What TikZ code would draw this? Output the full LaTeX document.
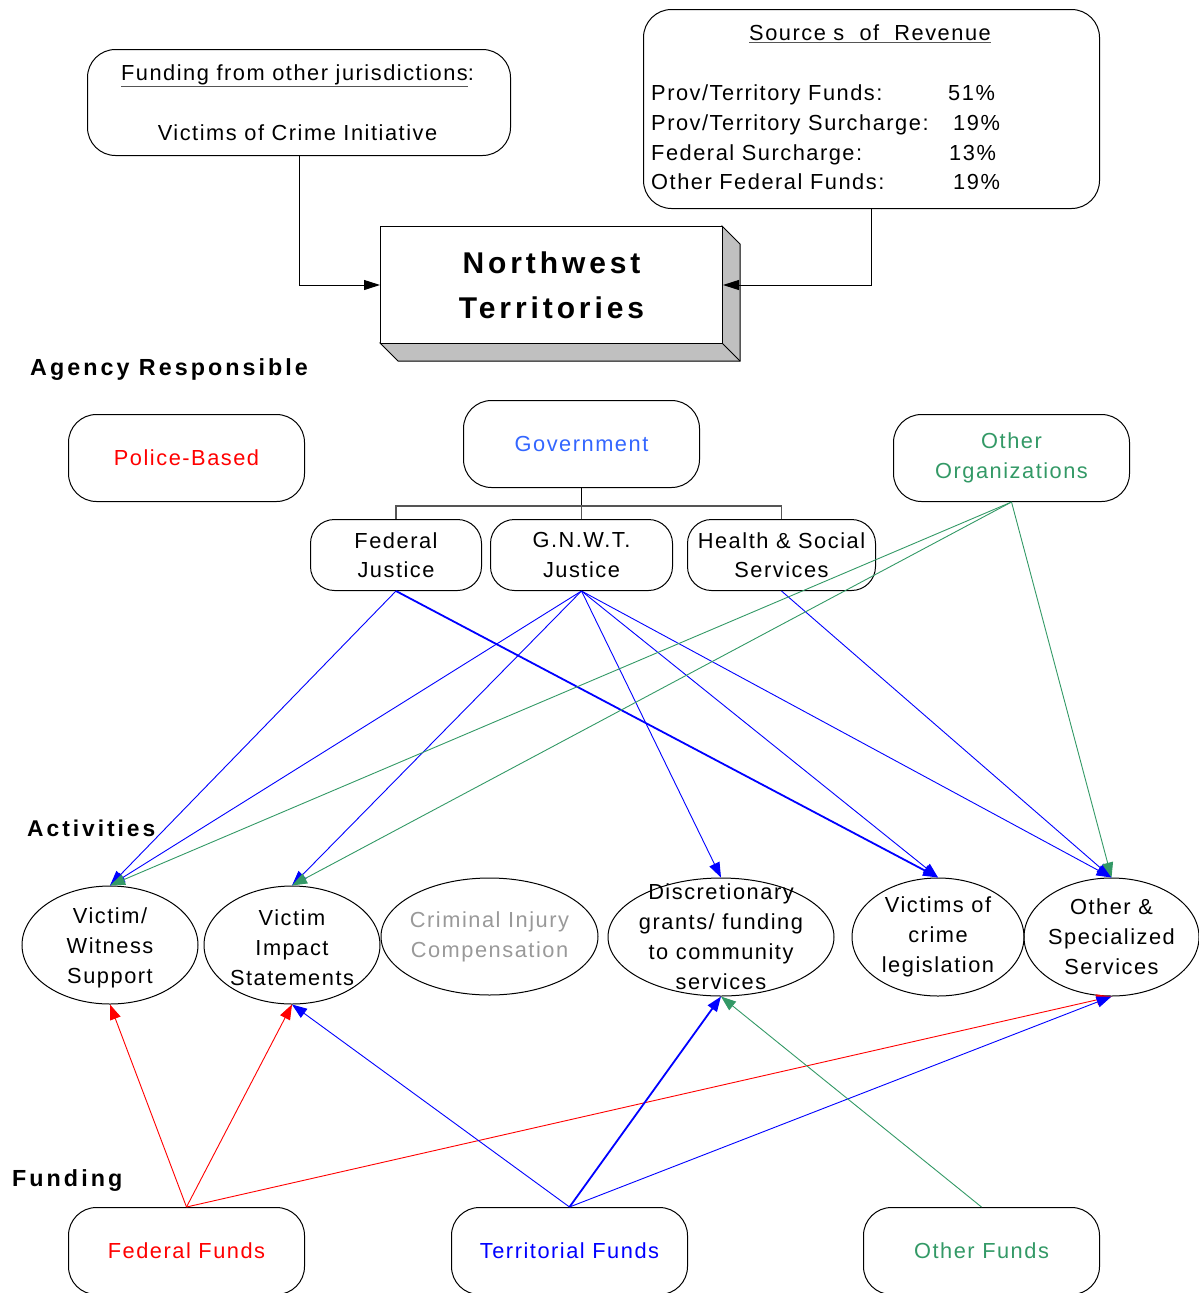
\documentclass[tikz,border=0pt]{standalone}
\usepackage{fontspec}
\setmainfont{Liberation Sans}[LetterSpace=7]
\newfontfamily\headfont{Liberation Sans}[LetterSpace=13]
\usetikzlibrary{arrows.meta,shapes.geometric}

\definecolor{fedred}{HTML}{FF0000}
\definecolor{terblue}{HTML}{0000FF}
\definecolor{othgreen}{HTML}{339966}
\definecolor{govblue}{HTML}{3366FF}
\definecolor{cicgray}{HTML}{999999}
\definecolor{sidegray}{HTML}{C0C0C0}
\definecolor{treegray}{HTML}{555555}

\begin{document}
\begin{tikzpicture}[x=1pt,y=-1pt,
  every node/.style={font=\fontsize{21.8}{29.5}\selectfont},
  txt/.style={inner sep=0pt, align=center},
  rbox/.style={draw, line width=1pt, rounded corners=28pt, inner sep=0pt, align=center, anchor=north west},
  sbox/.style={rbox, rounded corners=24pt, minimum width=#1, minimum height=71pt},
  abox/.style={rbox, minimum width=236pt, minimum height=87pt},
  ell/.style={draw, line width=1pt, ellipse, inner sep=0pt},
  heading/.style={inner sep=0pt, anchor=base west, font=\headfont\bfseries\fontsize{23.3}{28}\selectfont},
  tip/.style={-{Triangle[length=15pt,width=11pt]}},
  flowblue/.style={tip, terblue, line width=0.9pt},
  flowbluethick/.style={tip, terblue, line width=1.8pt},
  flowred/.style={tip, fedred, line width=0.9pt},
  flowgreen/.style={tip, othgreen, line width=0.9pt},
  feed/.style={-{Triangle[length=16pt,width=10pt]}, line width=1pt}
]
\useasboundingbox (0,0) rectangle (1199,1293);

% ---------- funding sources at the top ----------
\node[rbox, minimum width=423pt, minimum height=106pt] (jur) at (87,49) {};
\node[txt, anchor=base] (jurtitle) at (297.5,80.5)
  {{\color{treegray}\underline{\color{black}Funding from other jurisdictions}}:};
\node[txt, anchor=base] (jurtext) at (297.5,140.5) {Victims of Crime Initiative};

\node[rbox, minimum width=456pt, minimum height=199pt] (rev) at (643,9) {};
\node[txt, anchor=base] (revtitle) at (870,40.5)
  {{\color{treegray}\underline{\color{black}Source s\ \ of\ \ Revenue}}};
\node[txt, anchor=base west] (r1) at (651,100.5) {Prov/Territory Funds:};
\node[txt, anchor=base west] (r2) at (651,130.5) {Prov/Territory Surcharge:};
\node[txt, anchor=base west] (r3) at (651,160.5) {Federal Surcharge:};
\node[txt, anchor=base west] (r4) at (651,189.5) {Other Federal Funds:};
\node[txt, anchor=base west] (p1) at (948,100.5) {51\%};
\node[txt, anchor=base west] (p2) at (953,130.5) {19\%};
\node[txt, anchor=base west] (p3) at (949,160.5) {13\%};
\node[txt, anchor=base west] (p4) at (953,189.5) {19\%};

% ---------- the territory block with its bevel ----------
\filldraw[fill=sidegray, line width=1pt]
  (722,226) -- (740,244) -- (740,361) -- (398,361) -- (380,343) -- (722,343) -- cycle;
\draw[line width=1pt] (722,343) -- (740,361);
\node[draw, fill=white, line width=1pt, anchor=north west, inner sep=0pt,
      minimum width=342pt, minimum height=117pt, align=center,
      font=\headfont\bfseries\fontsize{30}{45}\selectfont] (nwt) at (380,226)
  {Northwest\\Territories};

\draw[feed] (jur.south) |- (nwt.west);
\draw[feed] (rev.south) |- (nwt.east);

% ---------- agencies ----------
\node[heading] (hagency) at (30,375) {Agency Responsible};

\node[abox, text=fedred] (police) at (68,414) {Police-Based};
\node[abox, text=govblue] (gov) at (463,400) {Government};
\node[abox, text=othgreen] (other) at (893,414) {Other\\Organizations};

\node[sbox=171pt] (fj) at (310,519) {Federal\\Justice};
\node[sbox=182pt] (gnwt) at (490,519) {G.N.W.T.\\Justice};
\node[sbox=188pt] (hss) at (687,519) {Health \& Social\\Services};

\draw[line width=1.4pt] (gov.south) -- ++(0,18) coordinate (junc);
\draw[treegray, line width=1.2pt] (fj.north) |- (junc) -| (hss.north);
\draw[treegray, line width=1.2pt] (gnwt.north) -- (junc);

% ---------- activities ----------
\node[heading, font=\headfont\bfseries\fontsize{22.8}{28}\selectfont] (hact) at (27,836) {Activities};

\node[ell, minimum width=176pt, minimum height=118pt] (vw) at (110,945) {};
\node[txt, font=\fontsize{21.8}{30}\selectfont, yshift=-3pt] (vwt) at (vw.center) {Victim/\\Witness\\Support};
\node[ell, minimum width=176pt, minimum height=118pt] (vis) at (292,945) {};
\node[txt, font=\fontsize{21.8}{30}\selectfont, yshift=-3pt] (vist) at (vis.center) {Victim\\Impact\\Statements};
\node[ell, minimum width=217pt, minimum height=117pt] (cic) at (489.5,936.5) {};
\node[txt, text=cicgray, font=\fontsize{21.8}{30}\selectfont] (cict) at (cic.center) {Criminal Injury\\Compensation};
\node[ell, minimum width=226pt, minimum height=118pt] (disc) at (721,937) {};
\node[txt, font=\fontsize{21.8}{30}\selectfont] (disct) at (disc.center)
  {Discretionary\\grants/ funding\\to community\\services};
\node[ell, minimum width=172pt, minimum height=118pt] (voc) at (938,937) {};
\node[txt, font=\fontsize{21.8}{30}\selectfont] (voct) at (voc.center) {Victims of\\crime\\legislation};
\node[ell, minimum width=175pt, minimum height=118pt] (spec) at (1111.5,937) {};
\node[txt, font=\fontsize{21.8}{30}\selectfont] (spect) at (spec.center) {Other \&\\Specialized\\Services};

% agencies to activities
\draw[flowblue] (fj.south) -- (vw.north);
\draw[flowbluethick] (fj.south) -- (voc.north);
\draw[flowblue] (gnwt.south) -- (vw.north);
\draw[flowblue] (gnwt.south) -- (vis.north);
\draw[flowblue] (gnwt.south) -- (disc.north);
\draw[flowblue] (gnwt.south) -- (voc.north);
\draw[flowblue] (gnwt.south) -- (spec.north);
\draw[flowblue] (hss.south) -- (spec.north);
\draw[flowgreen] (other.south) -- (vw.north);
\draw[flowgreen] (other.south) -- (vis.north);
\draw[flowgreen] (other.south) -- (spec.north);

% ---------- funding ----------
\node[heading] (hfund) at (12,1186) {Funding};

\node[abox, text=fedred] (ffund) at (68,1207) {Federal Funds};
\node[abox, text=terblue] (tfund) at (451,1207) {Territorial Funds};
\node[abox, text=othgreen] (ofund) at (863,1207) {Other Funds};

\draw[flowred] (ffund.north) -- (vw.south);
\draw[flowred] (ffund.north) -- (vis.south);
\draw[flowred] (ffund.north) -- (spec.south);
\draw[flowblue] (tfund.north) -- (vis.south);
\draw[flowbluethick] (tfund.north) -- (disc.south);
\draw[flowblue] (tfund.north) -- (spec.south);
\draw[flowgreen] (ofund.north) -- (disc.south);
\end{tikzpicture}
\end{document}
